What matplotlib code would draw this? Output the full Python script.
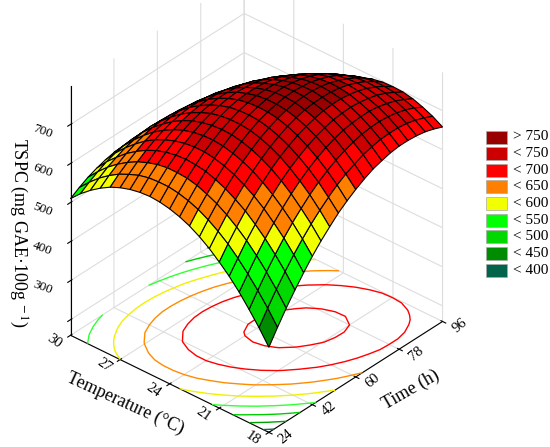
import numpy as np
import matplotlib
matplotlib.use("Agg")
import matplotlib.pyplot as plt
from matplotlib.colors import ListedColormap, BoundaryNorm
from matplotlib.patches import Rectangle
from mpl_toolkits.mplot3d import proj3d

plt.rcParams["font.family"] = ["Liberation Serif", "DejaVu Serif"]
plt.rcParams["mathtext.fontset"] = "stix"

# grid: rows = temperature, columns = time
temp = [18.0, 18.6, 19.2, 19.8, 20.4, 21.0, 21.6, 22.2, 22.8, 23.4, 24.0,
        24.6, 25.2, 25.8, 26.4, 27.0, 27.6, 28.2, 28.8, 29.4, 30.0]
time = [24.0, 27.6, 31.2, 34.8, 38.4, 42.0, 45.6, 49.2, 52.8, 56.4, 60.0,
        63.6, 67.2, 70.8, 74.4, 78.0, 81.6, 85.2, 88.8, 92.4, 96.0]
tspc = [
    [378, 415, 450, 482, 512, 540, 565, 587, 608, 625, 640, 653, 664, 671, 677, 680, 680, 678, 674, 667, 658],
    [416, 452, 486, 517, 546, 572, 596, 617, 636, 653, 667, 678, 688, 694, 699, 700, 700, 697, 691, 683, 673],
    [450, 485, 518, 548, 576, 601, 623, 644, 662, 677, 690, 700, 708, 714, 717, 718, 716, 712, 705, 696, 684],
    [482, 515, 547, 576, 602, 626, 648, 667, 684, 698, 710, 719, 726, 730, 732, 732, 729, 723, 716, 705, 693],
    [510, 542, 573, 600, 626, 648, 669, 687, 702, 715, 726, 734, 740, 743, 744, 742, 738, 732, 723, 711, 698],
    [534, 566, 595, 622, 646, 667, 687, 704, 718, 730, 739, 746, 751, 753, 753, 750, 745, 737, 727, 714, 699],
    [556, 586, 614, 639, 662, 683, 701, 717, 730, 741, 749, 755, 758, 759, 758, 754, 748, 739, 728, 714, 698],
    [574, 603, 630, 654, 676, 695, 712, 727, 739, 749, 756, 761, 763, 763, 760, 755, 747, 737, 725, 710, 693],
    [589, 617, 642, 665, 686, 704, 720, 734, 745, 753, 759, 763, 764, 762, 759, 752, 744, 733, 719, 703, 685],
    [600, 627, 652, 674, 693, 710, 725, 737, 747, 754, 759, 762, 762, 759, 754, 747, 737, 725, 710, 693, 673],
    [608, 634, 658, 678, 697, 713, 726, 737, 746, 752, 756, 757, 756, 752, 746, 738, 727, 713, 698, 679, 658],
    [613, 638, 660, 680, 697, 712, 724, 734, 742, 747, 749, 749, 747, 742, 735, 725, 713, 699, 682, 662, 640],
    [615, 638, 660, 678, 694, 708, 719, 728, 734, 738, 740, 738, 735, 729, 721, 710, 697, 681, 663, 642, 619],
    [613, 636, 656, 673, 688, 701, 711, 718, 723, 726, 726, 724, 720, 713, 703, 691, 677, 660, 640, 619, 594],
    [608, 630, 648, 665, 678, 690, 699, 705, 709, 711, 710, 707, 701, 693, 682, 669, 653, 635, 615, 592, 566],
    [600, 620, 638, 653, 666, 676, 684, 689, 692, 692, 690, 686, 679, 670, 658, 643, 627, 608, 586, 562, 535],
    [589, 608, 624, 638, 650, 659, 665, 669, 671, 670, 667, 662, 654, 643, 630, 615, 597, 576, 554, 528, 501],
    [574, 592, 607, 620, 630, 638, 644, 647, 647, 645, 641, 634, 625, 613, 599, 583, 564, 542, 518, 492, 463],
    [556, 573, 587, 598, 608, 614, 619, 621, 620, 617, 611, 604, 593, 580, 565, 547, 527, 505, 479, 452, 422],
    [535, 550, 563, 574, 582, 587, 590, 591, 589, 585, 579, 570, 558, 544, 528, 509, 487, 464, 437, 409, 378],
    [510, 524, 536, 545, 552, 557, 559, 558, 556, 550, 542, 532, 520, 504, 487, 467, 444, 419, 392, 362, 330],
]

temp_ticks = [18, 21, 24, 27, 30]
time_ticks = [24, 42, 60, 78, 96]
z_ticks = [200, 300, 400, 500, 600, 700]
z_tick_labels = ["", "300", "400", "500", "600", "700"]

levels = [400, 450, 500, 550, 600, 650, 700, 750]
band_colors = ["#00634a", "#008c00", "#00d800", "#00ff00", "#f2ff00",
               "#ff8000", "#ff0000", "#cc0000", "#990000"]
band_labels = ["< 400", "< 450", "< 500", "< 550", "< 600",
               "< 650", "< 700", "< 750", "> 750"]
line_colors = ["#0b6e55", "#00a000", "#00cc00", "#33ff33", "#f0f000",
               "#ff8c00", "#ff0000", "#ff0000"]

zmin, zmax = 160, 798

fig = plt.figure(figsize=(5.5, 4.47), dpi=100)
ax = fig.add_axes([-0.035, 0.01, 0.98, 1.04], projection="3d", computed_zorder=False)
ax.view_init(elev=34, azim=-138.8)
ax.set_proj_type("ortho")
ax.set_box_aspect((1, 1, 1.14), zoom=1.0)

Z = np.array(tspc, dtype=float)
T, H = np.meshgrid(temp, time, indexing="ij")
cmap = ListedColormap(band_colors)
norm = BoundaryNorm([-1e9] + levels + [1e9], cmap.N)

# contour lines on the floor, then the surface on top
ax.contour(H, T, Z, levels=levels, colors=line_colors, linewidths=1.0,
           zdir="z", offset=zmin, zorder=1)
ax.plot_surface(H, T, Z, cmap=cmap, norm=norm, rstride=1, cstride=1,
                edgecolor="black", linewidth=0.8, shade=False, zorder=2)

ax.set_xlim(24, 96)
ax.set_ylim(18, 30)
ax.set_zlim(zmin, zmax)
ax.set_xticks(time_ticks)
ax.set_yticks(temp_ticks)
ax.set_zticks(z_ticks)
ax.set_xticklabels([])
ax.set_yticklabels([])
ax.set_zticklabels([])
for a in (ax.xaxis, ax.yaxis, ax.zaxis):
    a.set_pane_color((1, 1, 1, 0))
    a._axinfo["grid"]["color"] = "#dddddd"
    a._axinfo["grid"]["linewidth"] = 0.8

fig.canvas.draw()
M = ax.get_proj()
to_fig = fig.transFigure.inverted()


def put_label(x, y, z, text, dx, dy, size, rot):
    # dx, dy in pixels (dy downwards) from the projected tick position
    px, py, _ = proj3d.proj_transform(x, y, z, M)
    disp = ax.transData.transform((px, py))
    fx, fy = to_fig.transform((disp[0] + dx, disp[1] - dy))
    fig.text(fx, fy, text, fontsize=size, rotation=rot, ha="center",
             va="center", rotation_mode="anchor")


for tv in temp_ticks:
    put_label(24, tv, zmin, str(tv), -16, 6, 10.5, -35)
for hv in time_ticks:
    put_label(hv, 18, zmin, str(hv), 17, 4, 10.5, 40)
for zv, lab in zip(z_ticks, z_tick_labels):
    put_label(24, 30, zv, lab, -28, 7, 9.5, -20)

fig.text(125 / 550, 1 - 403 / 447, "Temperature (°C)", fontsize=13,
         rotation=-24.5, ha="center", va="center", rotation_mode="anchor")
fig.text(411 / 550, 1 - 390 / 447, "Time (h)", fontsize=13,
         rotation=30, ha="center", va="center", rotation_mode="anchor")
fig.text(18 / 550, 1 - 233 / 447, "TSPC (mg GAE·100g$^{\\ -1}$)", fontsize=13,
         rotation=-90, ha="center", va="center", rotation_mode="anchor")

# legend drawn by hand, top entry first
for i, (c, lab) in enumerate(zip(band_colors[::-1], band_labels[::-1])):
    yc = 1 - (137 + 16.65 * i) / 447
    fig.patches.append(Rectangle((486 / 550, yc - 6.5 / 447), 21 / 550, 13 / 447,
                                 transform=fig.transFigure, facecolor=c,
                                 edgecolor="#aaaaaa", linewidth=0.5))
    fig.text(513 / 550, yc, lab, fontsize=11, va="center", ha="left")

fig.savefig("out.png", dpi=100)
